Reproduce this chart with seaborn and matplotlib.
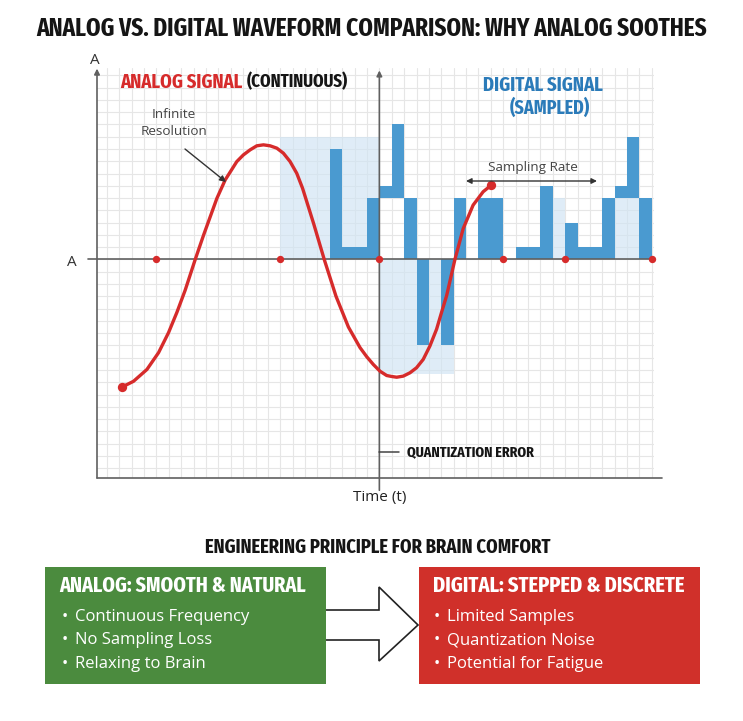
import os
import numpy as np
import pandas as pd
import matplotlib
matplotlib.use("Agg")
import matplotlib.pyplot as plt
import seaborn as sns
from matplotlib.patches import Rectangle, Polygon
from matplotlib import font_manager as fm

# analog waveform (x = time in grid cells, y = amplitude in grid cells)
analog_t = [-20.78, -20.38, -19.85, -18.77, -17.83, -17.02, -16.35, -15.68, -14.87, -14.2,
            -13.12, -12.45, -11.51, -10.98, -10.44, -9.9, -9.36, -8.82, -8.28, -7.75,
            -7.21, -6.67, -6.2, -5.3, -4.45, -3.5, -2.5, -1.56, -1.02, -0.49,
            0.05, 0.59, 0.99, 1.4, 1.93, 2.47, 3.0, 3.54, 4.08, 4.62,
            5.02, 5.43, 6.1, 6.77, 7.57, 8.38, 9.05]
analog_a = [-10.38, -10.19, -9.92, -8.96, -7.59, -5.95, -4.31, -2.5, 0.0, 1.97,
            4.98, 6.48, 7.98, 8.52, 8.93, 9.26, 9.34, 9.26, 9.07, 8.66,
            7.98, 7.02, 5.8, 2.9, 0.0, -3.0, -5.5, -7.18, -7.92, -8.55,
            -9.1, -9.45, -9.53, -9.59, -9.5, -9.23, -8.82, -8.14, -7.05, -5.68,
            -4.31, -2.95, 0.0, 2.52, 4.43, 5.52, 6.07]

# digital signal, one quantized block per grid column
digital_col = [-4, -3, -2, -1, 0, 1, 2, 3, 5, 6, 8, 9, 11, 12, 13, 15, 16, 17, 18, 19, 20, 21]
digital_low = [0, 0, 0, 0, 5, 5, 0, -7, -7, 0, 0, 0, 0, 0, 0, 0, 0, 0, 0, 5, 5, 0]
digital_high = [9, 1, 1, 5, 6, 11, 5, 0, 0, 5, 5, 5, 1, 1, 6, 3, 1, 1, 5, 6, 10, 5]

# pale quantization error zones
zone_col = [-8, 0, 14, 19]
zone_width = [8, 6, 1, 2]
zone_low = [0, -9.3, 0, 0]
zone_high = [10, 0, 5, 5]

# sample instants on the time axis
sample_t = [-18, -8, 0, 10, 15, 22]

title = "ANALOG VS. DIGITAL WAVEFORM COMPARISON: WHY ANALOG SOOTHES"
subtitle = "ENGINEERING PRINCIPLE FOR BRAIN COMFORT"
analog_head = "ANALOG: SMOOTH & NATURAL"
analog_points = ["Continuous Frequency", "No Sampling Loss", "Relaxing to Brain"]
digital_head = "DIGITAL: STEPPED & DISCRETE"
digital_points = ["Limited Samples", "Quantization Noise", "Potential for Fatigue"]

RED = "#d62b2b"
BLUE = "#4a9ad0"
PALE = "#cfe3f3"
GREEN_BOX = "#4b8b3e"
RED_BOX = "#d0302a"
BODY = ["Open Sans", "DejaVu Sans"]


def pick_condensed():
    # look for the most condensed bold face that is installed
    best, best_score = None, -1
    for f in fm.fontManager.ttflist:
        base = os.path.basename(f.fname).lower().replace("-", "").replace("_", "")
        name = f.name.lower()
        if "cjk" in base or "italic" in base or "oblique" in base or f.style != "normal":
            continue
        key = base + " " + name.replace(" ", "")
        if "extracondensed" in key or "ultracondensed" in key or "compressed" in key:
            cond = 3
        elif "semicondensed" in key:
            cond = 1
        elif "condensed" in key or "narrow" in key or f.stretch in ("condensed", "narrow"):
            cond = 2
        else:
            continue
        w = f.weight if isinstance(f.weight, int) else {"bold": 700}.get(str(f.weight), 400)
        if "extrabold" in key or "black" in key:
            bold = 1
        elif "semibold" in key:
            bold = 1
        elif "bold" in key or w == 700:
            bold = 2
        else:
            bold = 0
        score = cond * 10 + bold * 4
        if score > best_score:
            best, best_score = f.fname, score
    if best is None:
        return fm.FontProperties(family=["Roboto", "DejaVu Sans"], weight="bold")
    return fm.FontProperties(fname=best)


HEAD = pick_condensed()

sns.set_style("whitegrid")
plt.rcParams["font.family"] = BODY

fig = plt.figure(figsize=(7.43, 7.21), dpi=100)
fig.patch.set_facecolor("white")

# main waveform panel
ax = fig.add_axes([97 / 743, 1 - 478 / 721, (654.3 - 97) / 743, (478 - 68) / 721])
ax.set_xlim(-22.8, 22.2)
ax.set_ylim(-17.8, 15.6)
ax.set_xticks(np.arange(-22, 23))
ax.set_yticks(np.arange(-17, 16))
ax.tick_params(length=0, labelbottom=False, labelleft=False)
ax.grid(True, color="#e6e6e6", lw=0.8)
ax.set_axisbelow(True)
for s in ax.spines.values():
    s.set_visible(False)

zones = pd.DataFrame({"col": zone_col, "w": zone_width, "low": zone_low, "high": zone_high})
ax.bar(zones["col"], zones["high"] - zones["low"], width=zones["w"], bottom=zones["low"],
       align="edge", color=PALE, alpha=0.65, lw=0, zorder=1)

digital = pd.DataFrame({"col": digital_col, "low": digital_low, "high": digital_high})
ax.bar(digital["col"], digital["high"] - digital["low"], width=1, bottom=digital["low"],
       align="edge", color=BLUE, lw=0, zorder=2)

# axes lines
axis_col = "#606060"
ax.plot([-23.5, 22.2], [0, 0], color=axis_col, lw=1.2, clip_on=False, zorder=3)
ax.plot([-22.8, 22.8], [-17.8, -17.8], color=axis_col, lw=1.2, clip_on=False, zorder=3)
ax.annotate("", xy=(-22.8, 15.55), xytext=(-22.8, -17.8), annotation_clip=False,
            arrowprops=dict(arrowstyle="-|>", color=axis_col, lw=1.2, mutation_scale=8,
                            shrinkA=0, shrinkB=0))
ax.annotate("", xy=(0, 15.4), xytext=(0, -18.8), annotation_clip=False,
            arrowprops=dict(arrowstyle="-|>", color=axis_col, lw=1.2, mutation_scale=8,
                            shrinkA=0, shrinkB=0))
ax.plot([0, 1.6], [-15.7, -15.7], color="#444444", lw=1.1, clip_on=False, zorder=3)

analog = pd.DataFrame({"t": analog_t, "a": analog_a})
sns.lineplot(data=analog, x="t", y="a", sort=False, color=RED, lw=2.4, ax=ax, zorder=4)
ends = analog.iloc[[0, -1]]
sns.scatterplot(data=ends, x="t", y="a", color=RED, s=45, linewidth=0, ax=ax, zorder=5)
sns.scatterplot(x=sample_t, y=np.zeros(len(sample_t)), color=RED, s=28, linewidth=0,
                ax=ax, zorder=5, clip_on=False)
ax.set_xlabel("")
ax.set_ylabel("")

# overlay for text, boxes and arrows (pixel coordinates)
ov = fig.add_axes([0, 0, 1, 1], zorder=5)
ov.set_xlim(0, 743)
ov.set_ylim(721, 0)
ov.axis("off")
ov.patch.set_alpha(0)

renderer = fig.canvas.get_renderer()


def fit(t, width, max_size=40):
    w = t.get_window_extent(renderer).width
    t.set_fontsize(min(max_size, t.get_fontsize() * width / w))
    return t


def head_text(x, y, s, width, max_size, ha="left", color="#151515", **kw):
    t = ov.text(x, y, s, ha=ha, va="center", fontproperties=HEAD, color=color, **kw)
    t.set_fontsize(12)
    return fit(t, width, max_size)


head_text(372, 29, title, 670, 28, ha="center")

ov.text(95, 61, "A", ha="center", va="center", size=11, color="#333333")
ov.text(72, 262, "A", ha="center", va="center", size=11, color="#333333")
ov.text(380, 497, "Time (t)", ha="center", va="center", size=11, color="#222222")

t1 = head_text(120, 82, "ANALOG SIGNAL", 122, 17, color=RED)
t2 = head_text(247, 82, "(CONTINUOUS)", 101, 17)
head_text(543, 85, "DIGITAL SIGNAL", 120, 17, ha="center", color="#2b7bb9")
head_text(550, 108, "(SAMPLED)", 80, 17, ha="center", color="#2b7bb9")

ov.text(174, 123, "Infinite\nResolution", ha="center", va="center", size=9.7,
        color="#444444", linespacing=1.35)
ov.annotate("", xy=(226, 182), xytext=(185, 149),
            arrowprops=dict(arrowstyle="-|>", color="#333333", lw=1, mutation_scale=9,
                            shrinkA=0, shrinkB=0))
ov.text(533, 167, "Sampling Rate", ha="center", va="center", size=9.7, color="#444444")
ov.annotate("", xy=(597, 181), xytext=(466, 181),
            arrowprops=dict(arrowstyle="<|-|>", color="#333333", lw=1, mutation_scale=8,
                            shrinkA=0, shrinkB=0))
head_text(407, 452, "QUANTIZATION ERROR", 127, 13)

head_text(378, 547, subtitle, 347, 17, ha="center")

# arrow between the boxes
ov.add_patch(Polygon([(320, 610), (379, 610), (379, 587), (418, 625), (379, 661),
                      (379, 640), (320, 640)], closed=True, facecolor="white",
                     edgecolor="#222222", lw=1.2, zorder=1))
ov.add_patch(Rectangle((45, 567), 281, 117, facecolor=GREEN_BOX, edgecolor="none", zorder=2))
ov.add_patch(Rectangle((419, 567), 281, 117, facecolor=RED_BOX, edgecolor="none", zorder=2))

head_text(59, 586, analog_head, 247, 20, color="white", zorder=3)
for i, p in enumerate(analog_points):
    y = 617 + i * 23.5
    ov.text(65, y, "\u2022", ha="center", va="center", size=12, color="white", zorder=3)
    ov.text(75, y, p, ha="left", va="center", size=12, color="white", zorder=3)
head_text(433, 586, digital_head, 252, 20, color="white", zorder=3)
for i, p in enumerate(digital_points):
    y = 617 + i * 23.5
    ov.text(437, y, "\u2022", ha="center", va="center", size=12, color="white", zorder=3)
    ov.text(447, y, p, ha="left", va="center", size=12, color="white", zorder=3)

fig.savefig("out.png", dpi=100, facecolor="white")
